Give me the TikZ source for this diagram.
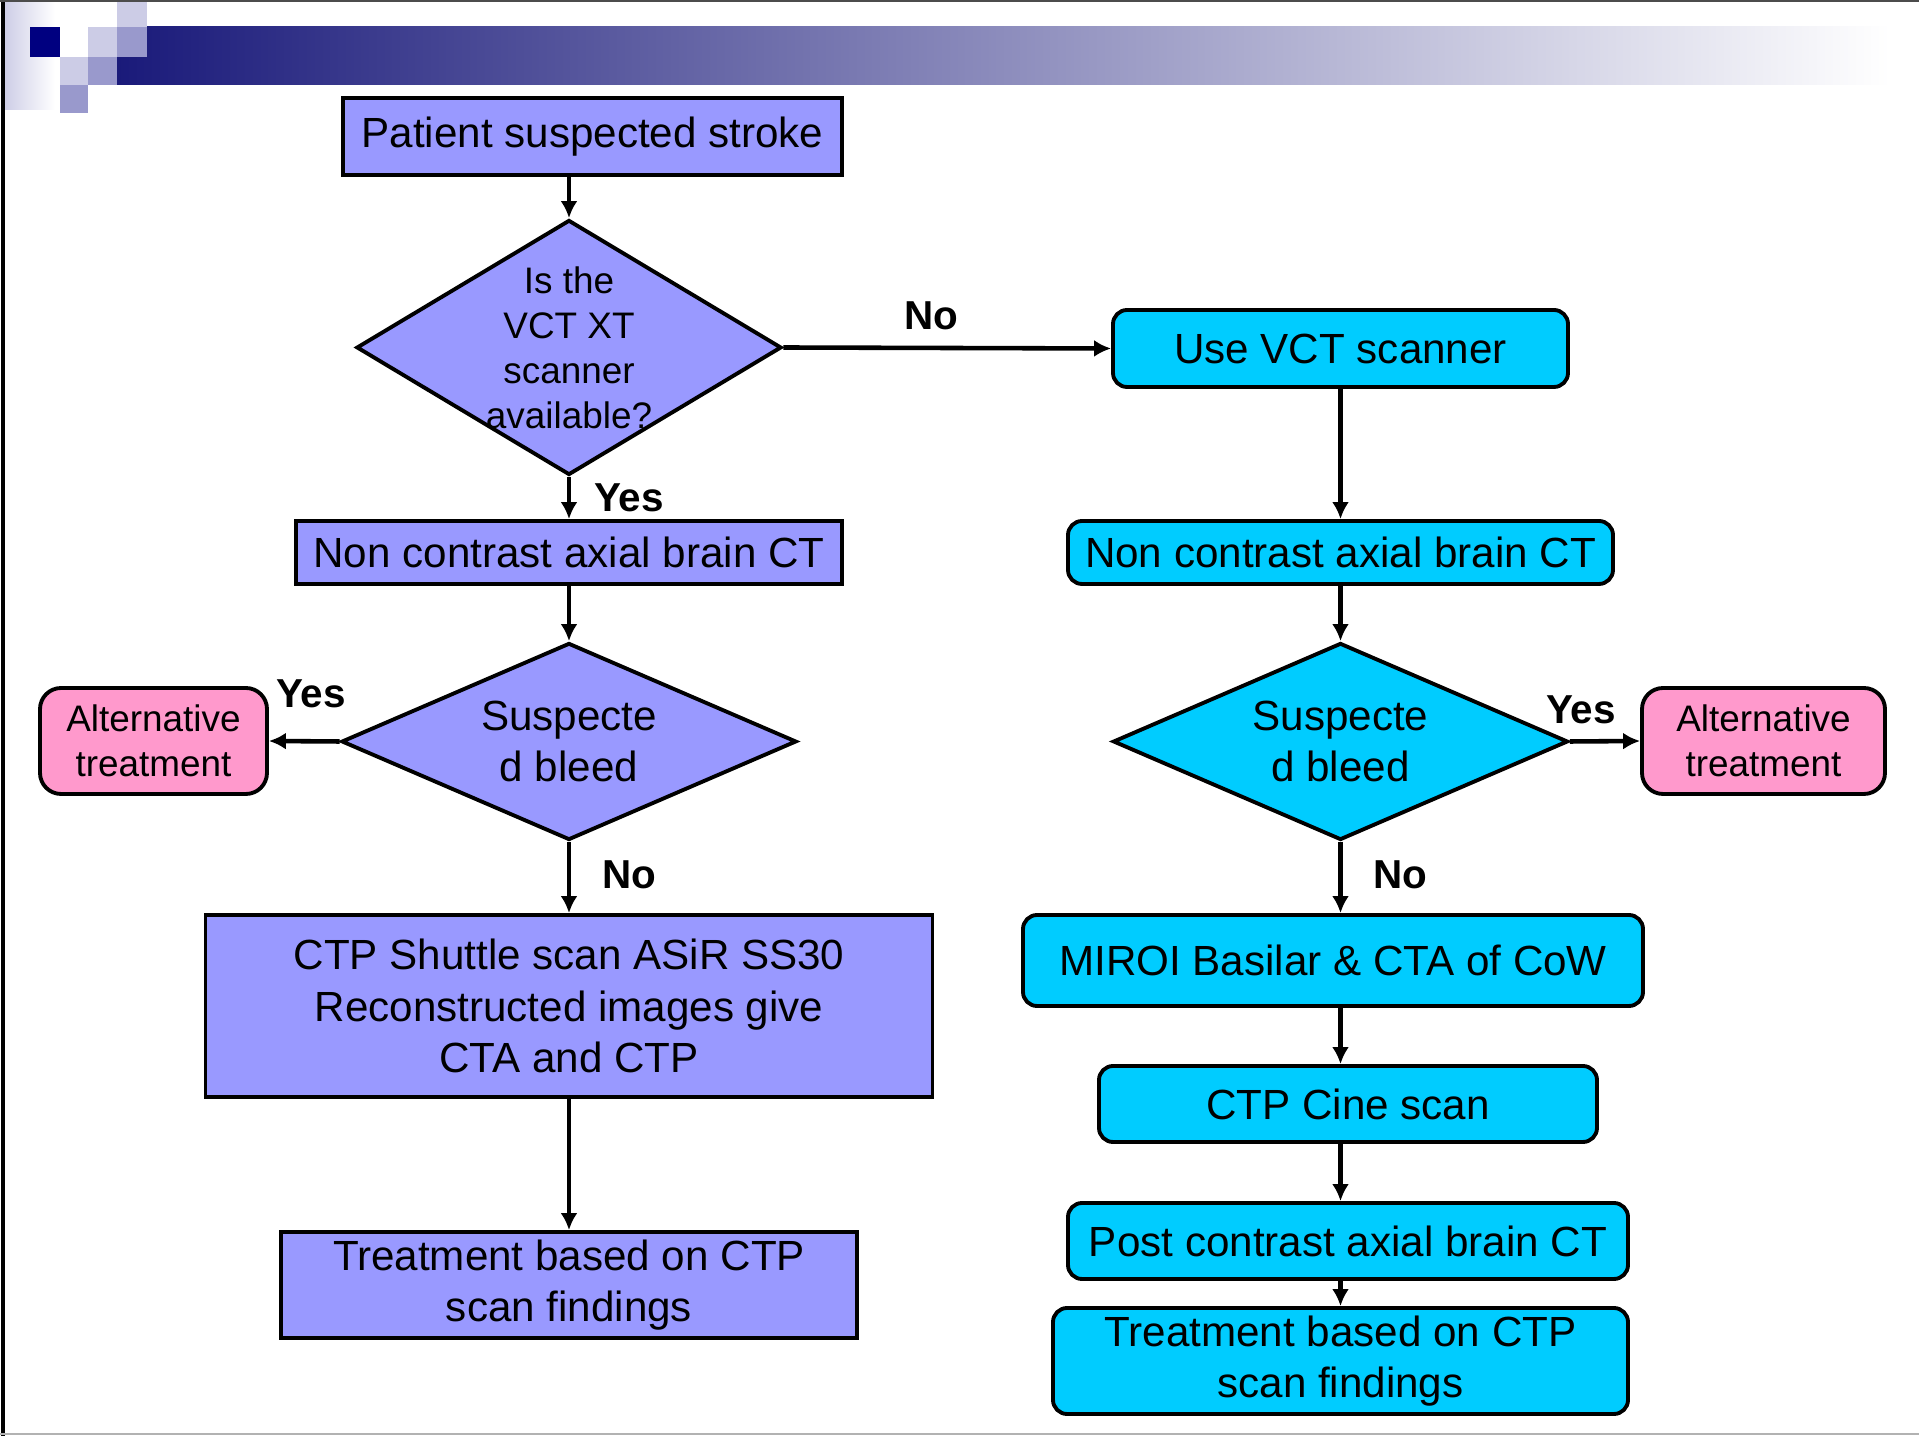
\documentclass[tikz,border=0pt]{standalone}
\usepackage{fontspec}
\setmainfont{Liberation Sans}
\usepackage{tikz}
\usetikzlibrary{arrows.meta,shapes.geometric}
\definecolor{lilac}{HTML}{9999FF}
\definecolor{skyfill}{HTML}{00CCFF}
\definecolor{pinkfill}{HTML}{FF99CC}
\definecolor{barnavy}{HTML}{1A1A7A}
\definecolor{barmid}{HTML}{B0B0CA}
\definecolor{palesq}{HTML}{CCCCE6}
\definecolor{midsq}{HTML}{9999CC}
\definecolor{darksq}{HTML}{000080}
\tikzstyle{boxl}=[draw, line width=1.1pt, fill=lilac, inner sep=0pt, align=center, font=\fontsize{12}{14.6}\selectfont]
\tikzstyle{boxr}=[boxl, fill=skyfill, rounded corners=4pt]
\tikzstyle{alt}=[boxl, fill=pinkfill, rounded corners=6pt, font=\fontsize{10.5}{12.8}\selectfont]
\tikzstyle{decisionl}=[diamond, draw, line width=1.1pt, fill=lilac, inner sep=0pt]
\tikzstyle{decisionr}=[decisionl, fill=skyfill]
\tikzstyle{qtext}=[align=center, inner sep=0pt, font=\fontsize{10.5}{12.8}\selectfont]
\tikzstyle{bleedtext}=[align=center, inner sep=0pt, font=\fontsize{12}{14.3}\selectfont]
\tikzstyle{answer}=[inner sep=0pt, font=\fontsize{11.5}{14}\selectfont\bfseries]
\tikzstyle{flow}=[draw=black, line width=1.3pt, -{Latex[length=1.7mm, width=1.7mm]}]

\begin{document}
\begin{tikzpicture}
		   \useasboundingbox (0,0) rectangle (19.19,-14.36);
		   \begin{scope}
			   \shade [left color=palesq, right color=white] (0.03,0) rectangle (0.55,-1.10);
			   \shade [left color=barnavy, middle color=barmid, right color=white] (1.17,-0.27) rectangle (18.90,-0.85);
			   \fill [white] (1.17,-0.27) rectangle (1.47,-0.57);
			   \fill [palesq] (1.17,0) rectangle (1.47,-0.27);
			   \fill [midsq] (1.17,-0.27) rectangle (1.47,-0.57);
			   \fill [darksq] (0.30,-0.27) rectangle (0.60,-0.57);
			   \fill [palesq] (0.88,-0.27) rectangle (1.17,-0.57);
			   \fill [palesq] (0.60,-0.57) rectangle (0.88,-0.85);
			   \fill [midsq] (0.88,-0.57) rectangle (1.17,-0.85);
			   \fill [midsq] (0.60,-0.85) rectangle (0.88,-1.13);
			   \draw [line width=1pt] (0.03,0) -- (0.03,-14.36);
			   \draw [line width=0.4pt, black!70] (0,-0.01) -- (19.19,-0.01);
			   \draw [line width=0.6pt, black!30] (0,-14.34) -- (19.19,-14.34);
		   \end{scope}
		   \begin{scope}
			   \node (start) at (5.925,-1.365)[boxl, minimum width=4.99cm, minimum height=0.77cm] {Patient suspected stroke};
			   \node (q1) at (5.69,-3.475)[decisionl, minimum width=4.25cm, minimum height=2.55cm] {};
			   \node (q1text) at (q1) [qtext] {Is the\\VCT XT\\scanner\\available?};
			   \node (vct) at (13.405,-3.485)[boxr, minimum width=4.55cm, minimum height=0.77cm] {Use VCT scanner};
			   \node (ncl) at (5.69,-5.525)[boxl, minimum width=5.46cm, minimum height=0.63cm] {Non contrast axial brain CT};
			   \node (ncr) at (13.405,-5.525)[boxr, minimum width=5.45cm, minimum height=0.63cm] {Non contrast axial brain CT};
			   \node (bleedl) at (5.69,-7.415)[decisionl, minimum width=4.55cm, minimum height=1.97cm] {};
			   \node (bleedltext) at (bleedl) [bleedtext] {Suspecte\\d bleed};
			   \node (bleedr) at (13.405,-7.415)[decisionr, minimum width=4.55cm, minimum height=1.97cm] {};
			   \node (bleedrtext) at (bleedr) [bleedtext] {Suspecte\\d bleed};
			   \node (altl) at (1.535,-7.41)[alt, minimum width=2.27cm, minimum height=1.06cm] {Alternative\\treatment};
			   \node (altr) at (17.635,-7.41)[alt, minimum width=2.43cm, minimum height=1.06cm] {Alternative\\treatment};
			   \node (ctp) at (5.69,-10.06)[boxl, minimum width=7.27cm, minimum height=1.82cm] {CTP Shuttle scan ASiR SS30\\Reconstructed images give\\CTA and CTP};
			   \node (treatl) at (5.69,-12.85)[boxl, minimum width=5.76cm, minimum height=1.06cm] {Treatment based on CTP\\scan findings};
			   \node (miroi) at (13.33,-9.605)[boxr, minimum width=6.2cm, minimum height=0.91cm] {MIROI Basilar \& CTA of CoW};
			   \node (cine) at (13.48,-11.04)[boxr, minimum width=4.98cm, minimum height=0.76cm] {CTP Cine scan};
			   \node (post) at (13.48,-12.41)[boxr, minimum width=5.6cm, minimum height=0.76cm] {Post contrast axial brain CT};
			   \node (treatr) at (13.405,-13.61)[boxr, minimum width=5.75cm, minimum height=1.06cm] {Treatment based on CTP\\scan findings};
			   \node (no1) at (9.31,-3.16)[answer] {No};
			   \node (yes1) at (6.29,-4.98)[answer] {Yes};
			   \node (yes2) at (3.11,-6.94)[answer] {Yes};
			   \node (no2) at (6.29,-8.75)[answer] {No};
			   \node (no3) at (14.0,-8.75)[answer] {No};
			   \node (yes3) at (15.81,-7.10)[answer] {Yes};
		   \end{scope}
		   \begin{scope}
			   \draw [flow] (start.south -| q1.north) -- (q1.north);
			   \draw [flow] (q1.east) -- (vct.west);
			   \draw [flow] (q1.south) -- (ncl.north);
			   \draw [flow] (ncl.south) -- (bleedl.north);
			   \draw [flow] (bleedl.west) -- (altl.east);
			   \draw [flow] (bleedl.south) -- (ctp.north);
			   \draw [flow] (ctp.south) -- (treatl.north);
			   \draw [flow] (vct.south) -- (ncr.north);
			   \draw [flow] (ncr.south) -- (bleedr.north);
			   \draw [flow] (bleedr.east) -- (altr.west);
			   \draw [flow] (bleedr.south) -- (bleedr.south |- miroi.north);
			   \draw [flow] (miroi.south -| bleedr) -- (cine.north -| bleedr);
			   \draw [flow] (cine.south -| bleedr) -- (post.north -| bleedr);
			   \draw [flow] (post.south -| bleedr) -- (treatr.north -| bleedr);
		   \end{scope}
	   \end{tikzpicture}
\end{document}
